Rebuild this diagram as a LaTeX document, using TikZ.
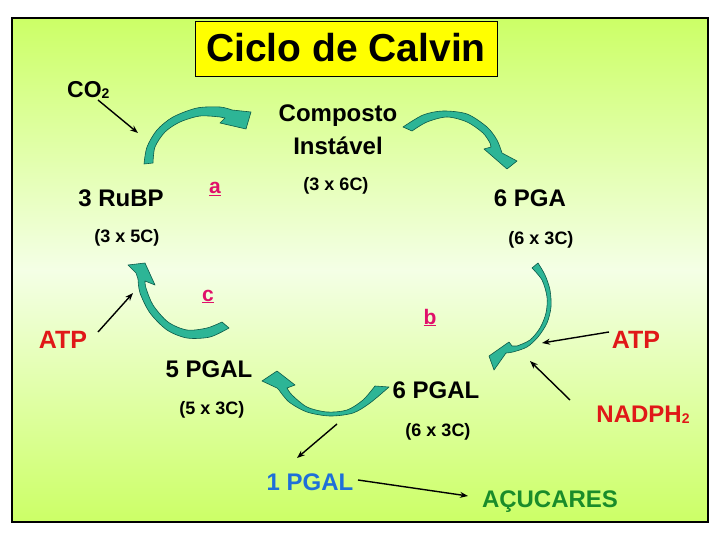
\documentclass[tikz,border=0pt]{standalone}
\usepackage{fontspec}
\setmainfont{Liberation Sans}
\usetikzlibrary{arrows.meta}
\definecolor{lime}{HTML}{CCFF66}
\definecolor{pale}{HTML}{F4FFE6}
\definecolor{ttl}{HTML}{FFFF00}
\definecolor{pinkl}{HTML}{E0106A}
\definecolor{redl}{HTML}{E01818}
\definecolor{bluel}{HTML}{1E6FD9}
\definecolor{greenl}{HTML}{1A8C2A}
\definecolor{tealf}{HTML}{2DB596}
\definecolor{teald}{HTML}{0B5A48}
\tikzset{
  lbl/.style={font=\bfseries\fontsize{24}{28}\selectfont, anchor=base, inner sep=0pt},
  sml/.style={font=\bfseries\fontsize{18}{21}\selectfont, anchor=base, inner sep=0pt},
  ltr/.style={font=\bfseries\fontsize{21}{24}\selectfont, anchor=base, inner sep=0pt, text=pinkl},
  carrow/.style={fill=tealf, draw=teald, line width=0.6pt, line join=round},
  sarrow/.style={draw=black, line width=1.4pt, -{Stealth[length=8pt,width=6pt]}}
}
\newcommand{\subtwo}{\raisebox{-1pt}{\fontsize{14}{14}\selectfont 2}}
\begin{document}
\begin{tikzpicture}[x=1pt,y=-1pt]
\useasboundingbox (0,0) rectangle (720,540);
\fill[white] (0,0) rectangle (720,540);
% background frame
\shade[top color=lime, bottom color=pale] (12,18) rectangle (708,270.5);
\shade[top color=pale, bottom color=lime] (12,270) rectangle (708,522);
\draw[line width=1.2pt] (12,18) rectangle (708,522);
% title
\node[draw=black, line width=0.8pt, fill=ttl, minimum width=302pt, minimum height=55pt, inner sep=0pt] (title) at (346,48.5) {};
\node[font=\bfseries\fontsize{39}{44}\selectfont, anchor=base, inner sep=0pt] (titletxt) at (346,62) {Ciclo de Calvin};
% labels
\node[font=\bfseries\fontsize{23}{26}\selectfont, anchor=base west, inner sep=0pt] (co2) at (67,98) {CO\subtwo};
\node[lbl] (rubp) at (121,207) {3 RuBP};
\node[sml] (rubpc) at (127,243) {(3 x 5C)};
\node[ltr] (la) at (215,194) {\underline{a}};
\node[lbl] (comp) at (338,122) {Composto};
\node[lbl] (inst) at (338,155) {Instável};
\node[sml] (compc) at (336,191) {(3 x 6C)};
\node[lbl] (pga) at (530,207) {6 PGA};
\node[sml] (pgac) at (541,244) {(6 x 3C)};
\node[ltr] (lc) at (208,301) {\underline{c}};
\node[ltr] (lb) at (430,324) {\underline{b}};
\node[lbl, text=redl, font=\bfseries\fontsize{25}{28}\selectfont] (atpl) at (63,348) {ATP};
\node[lbl, text=redl, font=\bfseries\fontsize{25}{28}\selectfont] (atpr) at (636,348) {ATP};
\node[lbl] (pgal5) at (209,377) {5 PGAL};
\node[sml] (pgal5c) at (212,414) {(5 x 3C)};
\node[lbl] (pgal6) at (436,398) {6 PGAL};
\node[sml] (pgal6c) at (438,436) {(6 x 3C)};
\node[lbl, text=redl, font=\bfseries\fontsize{24}{28}\selectfont] (nadph) at (643,422) {NADPH\subtwo};
\node[lbl, text=bluel, font=\bfseries\fontsize{24}{28}\selectfont] (pgal1) at (310,490) {1 PGAL};
\node[lbl, text=greenl, font=\bfseries\fontsize{24}{28}\selectfont] (acu) at (550,507) {AÇUCARES};
% straight arrow end points
\coordinate (co2s) at (98,100);  \coordinate (co2e) at (138,133);
\coordinate (atpls) at (98,332); \coordinate (atple) at (133,293);
\coordinate (atprs) at (609,332); \coordinate (atpre) at (542,343);
\coordinate (nads) at (570,400); \coordinate (nade) at (530,361);
\coordinate (outs) at (337,424); \coordinate (oute) at (297,458);
\coordinate (acus) at (358,480); \coordinate (acue) at (468,496);
\draw[sarrow] (co2s) -- (co2e);
\draw[sarrow] (atpls) -- (atple);
\draw[sarrow] (atprs) -- (atpre);
\draw[sarrow] (nads) -- (nade);
\draw[sarrow] (outs) -- (oute);
\draw[sarrow] (acus) -- (acue);
% curved arrows
\filldraw[carrow] plot[smooth] coordinates {(144,164) (147,147) (157,130) (173,117) (197,108) (220,107) (232,110)}
  -- (251,112) -- (246,129) -- (220,123) -- (225,118)
  -- plot[smooth] coordinates {(220,117) (200,116) (180,122) (165,132) (155,147) (153,163)} -- cycle;
\filldraw[carrow] plot[smooth] coordinates {(403,127) (423,115) (443,111) (467,114) (487,127) (497,140) (502,153)}
  -- (517,161) -- (507,169) -- (484,149) -- (491,147)
  -- plot[smooth] coordinates {(490,143) (483,133) (467,122) (447,117) (427,122) (412,131)} -- cycle;
\filldraw[carrow] plot[smooth] coordinates {(538,263) (545,275) (550,290) (551,307) (547,323) (538,337) (527,347) (513,352) (506,353)}
  -- (494,370) -- (489,356) -- (509,342) -- (512,346)
  -- plot[smooth] coordinates {(517,346) (530,340) (540,328) (546,313) (547,297) (542,280) (532,268)} -- cycle;
\filldraw[carrow] plot[smooth] coordinates {(375,386) (363,400) (347,410) (327,412) (307,407) (292,395) (287,388)}
  -- (295,385) -- (277,371) -- (262,381) -- (277,388)
  -- plot[smooth] coordinates {(279,390) (289,402) (307,412) (330,416) (353,413) (370,403) (389,387)} -- cycle;
\filldraw[carrow] plot[smooth] coordinates {(222,322) (207,328) (187,330) (168,322) (153,305) (146,288) (145,281)}
  -- (155,285) -- (145,263) -- (128,265) -- (136,273)
  -- plot[smooth] coordinates {(138,279) (140,293) (150,313) (167,330) (187,338) (210,337) (229,328)} -- cycle;
\end{tikzpicture}
\end{document}
